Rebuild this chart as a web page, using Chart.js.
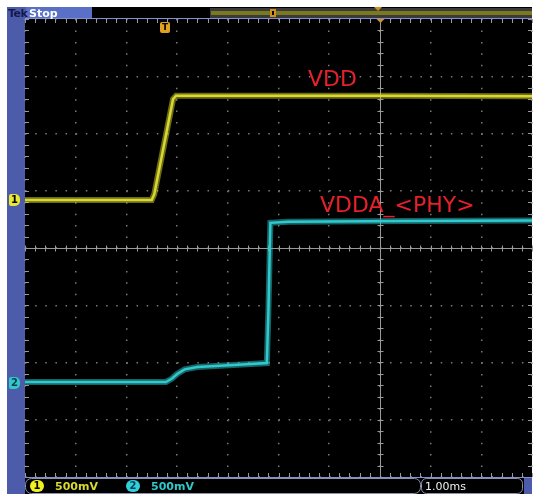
<!DOCTYPE html>
<html><head><meta charset="utf-8">
<script src="https://cdn.jsdelivr.net/npm/chart.js@4.4.1/dist/chart.umd.min.js"></script>
<style>
html,body{margin:0;padding:0;background:#fff;}
#wrap{position:relative;width:548px;height:503px;overflow:hidden;background:#fff;}
#c{position:absolute;left:0;top:0;}
.t{position:absolute;white-space:nowrap;font-family:"DejaVu Sans",Verdana,sans-serif;line-height:1;}
.ch{position:absolute;font-family:"DejaVu Sans",sans-serif;font-weight:bold;font-size:10px;line-height:12px;text-align:center;}
</style></head><body>
<div id="wrap">
<canvas id="c" width="548" height="503"></canvas>
<div class="t" style="left:8px;top:8px;font-size:11px;font-weight:bold;color:#15184a;letter-spacing:-0.5px">Tek</div>
<div class="t" style="left:29px;top:8px;font-size:11px;font-weight:bold;color:#fff">Stop</div>
<div class="t" style="left:308px;top:68px;font-size:22px;color:#e8202a">VDD</div>
<div class="t" style="left:320px;top:194px;font-size:22px;color:#e8202a">VDDA_&lt;PHY&gt;</div>
<div class="ch" style="left:30px;top:480px;width:14px;height:12px;border-radius:7px;background:#f0f020;color:#000">1</div>
<div class="t" style="left:55px;top:481px;font-size:11px;font-weight:bold;color:#d8d830">500mV</div>
<div class="ch" style="left:126px;top:480px;width:14px;height:12px;border-radius:7px;background:#30d0d8;color:#0a3a50">2</div>
<div class="t" style="left:151px;top:481px;font-size:11px;font-weight:bold;color:#30c8c8">500mV</div>
<div class="t" style="left:425px;top:481px;font-size:11px;color:#f0f0f0">1.00ms</div>
<div class="ch" style="left:9px;top:194px;width:11px;height:12px;background:#e8e830;color:#000;border-radius:2px 5px 5px 2px">1</div>
<div class="ch" style="left:9px;top:377px;width:11px;height:12px;background:#30c8c8;color:#0a3a50;border-radius:2px 5px 5px 2px">2</div>
<div class="ch" style="left:160px;top:22px;width:10px;height:11px;background:#e0a020;color:#000;font-size:9px;line-height:11px;border-radius:2px">T</div>
</div>
<script>
// ---- data ----
const timeDivMs = 1.0;          // 1.00 ms / div
const voltsPerDiv = 0.5;        // 500 mV / div, both channels
const ch1OffsetDiv = 0.84;      // ground marker of channel 1 (div above centre)
const ch2OffsetDiv = -2.34;     // ground marker of channel 2
const vddTime  = [0, 2.50, 2.55, 2.92, 2.98, 4.00, 7.00, 10.0];
const vddVolts = [0.00, 0.00, 0.05, 0.88, 0.91, 0.91, 0.91, 0.905];
const vddaTime  = [0, 2.78, 2.90, 3.00, 3.15, 3.40, 4.20, 4.77, 4.80, 4.84, 5.20, 7.50, 10.0];
const vddaVolts = [0.00, 0.00, 0.03, 0.07, 0.11, 0.13, 0.15, 0.165, 0.60, 1.39, 1.40, 1.405, 1.41];
const xTicks = [0,1,2,3,4,5,6,7,8,9,10];
const yTicks = [-4,-3,-2,-1,0,1,2,3,4];

const toPts = (t, v, off) => t.map((tt, i) => ({x: tt / timeDivMs, y: off + v[i] / voltsPerDiv}));
const vddPts = toPts(vddTime, vddVolts, ch1OffsetDiv);
const vddaPts = toPts(vddaTime, vddaVolts, ch2OffsetDiv);

const scope = {
  id: 'scope',
  beforeDraw(chart) {
    const {ctx, chartArea: a} = chart;
    ctx.save();
    ctx.fillStyle = '#4c5caa'; ctx.fillRect(7, 7, 525, 487);
    // top bar
    ctx.fillStyle = '#5a6fc6'; ctx.fillRect(26, 7, 66, 12);
    ctx.fillStyle = '#000'; ctx.fillRect(92, 7, 440, 12);
    ctx.fillStyle = '#3a3a3e'; ctx.fillRect(210, 8, 322, 10);
    ctx.fillStyle = '#7a7a1c'; ctx.fillRect(211, 11, 321, 4);
    ctx.fillStyle = '#d09020'; ctx.fillRect(270, 9, 6, 8);
    ctx.fillStyle = '#000'; ctx.fillRect(272, 11, 2, 4);
    ctx.fillStyle = '#d09020';
    ctx.beginPath(); ctx.moveTo(374, 7); ctx.lineTo(382, 7); ctx.lineTo(378, 11); ctx.fill();
    // plot
    ctx.fillStyle = '#000'; ctx.fillRect(a.left, a.top, a.right - a.left, a.bottom - a.top);
    // bottom status bar
    ctx.fillStyle = '#000';
    ctx.fillRect(25, 478, 507, 16);
    ctx.strokeStyle = '#8a92b0'; ctx.lineWidth = 1;
    ctx.beginPath(); ctx.roundRect(25.5, 478.5, 395, 15, 6); ctx.stroke();
    ctx.beginPath(); ctx.roundRect(421.5, 478.5, 101, 15, 5); ctx.stroke();
    ctx.fillStyle = '#4c5caa'; ctx.fillRect(524, 478, 8, 16);
    ctx.restore();
  },
  beforeDatasetsDraw(chart) {
    const {ctx, chartArea: a, scales: {x, y}} = chart;
    ctx.save();
    ctx.strokeStyle = '#9a9a9a'; ctx.lineWidth = 1;
    // centre crosshair
    const cy = Math.round(y.getPixelForValue(0)) + 0.5;
    const cx = Math.round(x.getPixelForValue(7)) + 0.5;
    ctx.beginPath(); ctx.moveTo(a.left, cy); ctx.lineTo(a.right, cy);
    ctx.moveTo(cx, a.top); ctx.lineTo(cx, a.bottom); ctx.stroke();
    ctx.beginPath();
    for (let v = 0; v <= 10.001; v += 0.2) {
      const px = Math.round(x.getPixelForValue(v)) + 0.5;
      ctx.moveTo(px, cy - 3); ctx.lineTo(px, cy + 3);
      ctx.moveTo(px, a.top); ctx.lineTo(px, a.top + 4);
      ctx.moveTo(px, a.bottom); ctx.lineTo(px, a.bottom - 4);
    }
    for (let v = -4; v <= 4.001; v += 0.2) {
      const py = Math.round(y.getPixelForValue(v)) + 0.5;
      ctx.moveTo(cx - 3, py); ctx.lineTo(cx + 3, py);
      ctx.moveTo(a.left, py); ctx.lineTo(a.left + 4, py);
      ctx.moveTo(a.right, py); ctx.lineTo(a.right - 4, py);
    }
    ctx.stroke();
    // edges
    ctx.strokeStyle = '#8090d0';
    ctx.beginPath(); ctx.moveTo(a.left, a.top - 0.5); ctx.lineTo(a.right, a.top - 0.5);
    ctx.moveTo(a.left, a.bottom + 0.5); ctx.lineTo(a.right, a.bottom + 0.5); ctx.stroke();
    // orange marker in plot
    ctx.fillStyle = '#d09020';
    ctx.beginPath(); ctx.moveTo(cx - 4, a.top); ctx.lineTo(cx + 4, a.top); ctx.lineTo(cx, a.top + 4); ctx.fill();
    ctx.restore();
  }
};

new Chart(document.getElementById('c'), {
  type: 'line',
  data: {
    datasets: [
      {label: 'VDD band', data: vddPts, borderColor: 'rgba(215,215,45,0.5)', borderWidth: 6, pointRadius: 0, tension: 0},
      {label: 'VDDA band', data: vddaPts, borderColor: 'rgba(45,200,205,0.5)', borderWidth: 6, pointRadius: 0, tension: 0},
      {label: 'VDD', data: vddPts, borderColor: '#d8d834', borderWidth: 2.5, pointRadius: 0, tension: 0},
      {label: 'VDDA_<PHY>', data: vddaPts, borderColor: '#30cace', borderWidth: 2.5, pointRadius: 0, tension: 0}
    ]
  },
  options: {
    responsive: false, animation: false,
    layout: {padding: {left: 25, right: 16, top: 19, bottom: 26}},
    plugins: {legend: {display: false}, tooltip: {enabled: false}},
    scales: {
      x: {type: 'linear', min: 0, max: 10,
          afterFit: s => { s.height = 0; },
          afterBuildTicks: s => { s.ticks = xTicks.map(v => ({value: v})); },
          ticks: {display: false}, border: {display: false, dash: [1.5, 9.95]},
          grid: {color: '#7a7a7a', lineWidth: 1.5, drawTicks: false}},
      y: {type: 'linear', min: -4, max: 4,
          afterFit: s => { s.width = 0; },
          afterBuildTicks: s => { s.ticks = yTicks.map(v => ({value: v})); },
          ticks: {display: false}, border: {display: false, dash: [1.5, 8.64]},
          grid: {color: '#7a7a7a', lineWidth: 1.5, drawTicks: false}}
    }
  },
  plugins: [scope]
});
</script>
</body></html>
